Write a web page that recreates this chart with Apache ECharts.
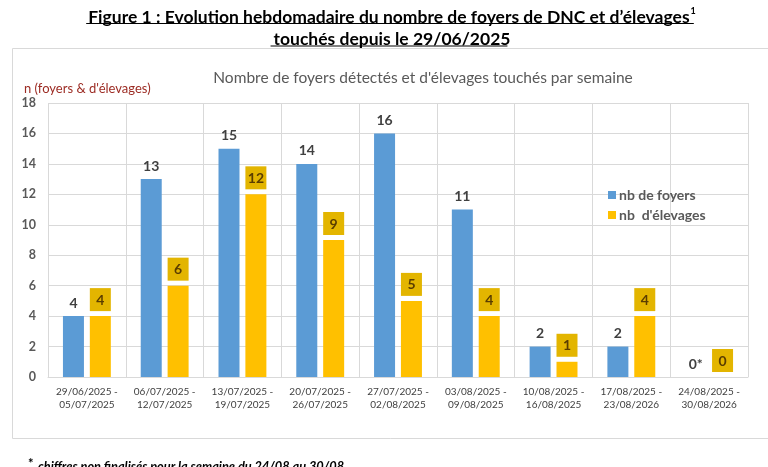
<!DOCTYPE html>
<html>
<head>
<meta charset="utf-8">
<script src="https://cdn.jsdelivr.net/npm/echarts@6/dist/echarts.min.js"></script>
<style>html,body{margin:0;padding:0;background:#fff;}#c{width:768px;height:467px;}</style>
</head>
<body>
<div id="c"></div>
<script>
const categories = ['29/06/2025 -\n05/07/2025','06/07/2025 -\n12/07/2025','13/07/2025 -\n19/07/2025','20/07/2025 -\n26/07/2025','27/07/2025 -\n02/08/2025','03/08/2025 -\n09/08/2025','10/08/2025 -\n16/08/2025','17/08/2025 -\n23/08/2026','24/08/2025 -\n30/08/2026'];
const foyers = [4, 13, 15, 14, 16, 11, 2, 2, 0];
const elevages = [4, 6, 12, 9, 5, 4, 1, 4, 0];
const foyersLabels = ['4','13','15','14','16','11','2','2','0*'];
const yMin = 0, yMax = 18, yStep = 2;

const FONT = 'Lato';
const chart = echarts.init(document.getElementById('c'));

function textWidth(txt, font) {
  const ctx = document.createElement('canvas').getContext('2d');
  ctx.font = font;
  return ctx.measureText(txt).width;
}
const t1 = 'Figure 1 : Evolution hebdomadaire du nombre de foyers de DNC et d’élevages';
const t2 = 'touchés depuis le 29/06/2025';
const TS = 17.5;
const tFont = 'bold ' + TS + 'px ' + FONT;
const w1 = textWidth(t1, tFont) + textWidth('1', 'bold 9px ' + FONT) + 1;
const w2 = textWidth(t2, tFont);
const cx = 387;

chart.setOption({
  animation: false,
  textStyle: { fontFamily: FONT },
  title: [
    { text: '{t|' + t1 + '}{s|1}', left: cx, top: 2, textAlign: 'center',
      textStyle: { rich: { t: { fontSize: TS, fontWeight: 'bold', color: '#000', fontFamily: FONT, lineHeight: 21 },
                           s: { fontSize: 9, fontWeight: 'bold', color: '#000', fontFamily: FONT, verticalAlign: 'top', lineHeight: 21, padding: [0,0,9,1] } } } },
    { text: t2, left: cx, top: 25, textAlign: 'center',
      textStyle: { fontSize: TS, fontWeight: 'bold', color: '#000', fontFamily: FONT } },
    { text: 'Nombre de foyers détectés et d\'élevages touchés par semaine', left: 418, top: 65, textAlign: 'center',
      textStyle: { fontSize: 15.5, fontWeight: 'normal', color: '#595959', fontFamily: FONT } },
    { text: 'n (foyers & d\'élevages)', left: 19, top: 77,
      textStyle: { fontSize: 13, fontWeight: 'normal', color: '#9c2b23', fontFamily: FONT } },
    { text: '{a|*} {b|chiffres non finalisés pour la semaine du 24/08 au 30/08}', left: 23, top: 452,
      textStyle: { rich: { a: { fontSize: 13, color: '#000', fontFamily: FONT, verticalAlign: 'top', padding: [0,0,6,0] },
                           b: { fontSize: 12.8, fontStyle: 'italic', color: '#000', fontFamily: FONT } } } }
  ],
  graphic: [
    { type: 'rect', shape: { x: 12.5, y: 48.5, width: 770, height: 390 }, style: { fill: 'none', stroke: '#d9d9d9', lineWidth: 1 }, z: -1 },
    { type: 'line', shape: { x1: cx - w1 / 2 + 3, y1: 23.5, x2: cx + w1 / 2 + 3, y2: 23.5 }, style: { stroke: '#000', lineWidth: 1.2 } },
    { type: 'line', shape: { x1: cx - w2 / 2 + 2, y1: 46, x2: cx + w2 / 2 + 2, y2: 46 }, style: { stroke: '#000', lineWidth: 1.2 } }
  ],
  legend: {
    orient: 'vertical', left: 603, top: 183, itemWidth: 8, itemHeight: 8, itemGap: 6,
    icon: 'rect',
    textStyle: { fontSize: 14, color: '#595959', fontWeight: 'bold', fontFamily: FONT, padding: [0,0,0,-2] },
    data: ['nb de foyers', 'nb  d\'élevages']
  },
  grid: { left: 48, right: 20, top: 103, bottom: 90, containLabel: false },
  xAxis: {
    type: 'category', data: categories,
    axisLine: { lineStyle: { color: '#d9d9d9' } },
    axisTick: { show: false },
    splitLine: { show: true, interval: 0, lineStyle: { color: '#d9d9d9' } },
    axisLabel: { interval: 0, fontSize: 10, color: '#404040', lineHeight: 13, margin: 8, fontFamily: FONT }
  },
  yAxis: {
    type: 'value', min: yMin, max: yMax, interval: yStep,
    axisLine: { show: false }, axisTick: { show: false },
    splitLine: { lineStyle: { color: '#d9d9d9' } },
    axisLabel: { fontSize: 12.5, color: '#595959', fontWeight: 'bold', margin: 12, fontFamily: FONT }
  },
  series: [
    { name: 'nb de foyers', type: 'bar', data: foyers, barWidth: 21, barGap: '28%',
      itemStyle: { color: '#5b9bd5' },
      label: { show: true, position: 'top', distance: 6, fontSize: 14, fontWeight: 'bold', color: '#404040', fontFamily: FONT,
               formatter: p => foyersLabels[p.dataIndex] } },
    { name: 'nb  d\'élevages', type: 'bar', data: elevages, barWidth: 21,
      itemStyle: { color: '#ffc000' },
      label: { show: true, position: 'top', distance: 5, fontSize: 14, fontWeight: 'bold', color: '#5a3d00', fontFamily: FONT,
               backgroundColor: '#e3b500', padding: [5, 4, 4, 4], width: 13, align: 'center' } }
  ]
});
</script>
</body>
</html>
